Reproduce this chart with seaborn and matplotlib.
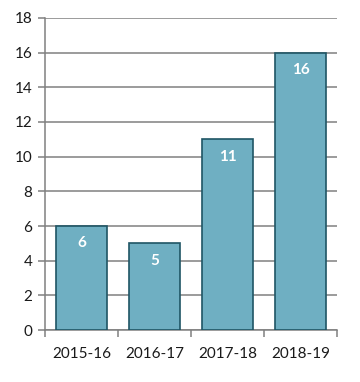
import matplotlib
matplotlib.use("Agg")
import matplotlib.pyplot as plt
import seaborn as sns
import pandas as pd
import numpy as np

categories = ["2015-16", "2016-17", "2017-18", "2018-19"]
values = [6, 5, 11, 16]
yticks = [0, 2, 4, 6, 8, 10, 12, 14, 16, 18]

sns.set_theme(style="white")
plt.rcParams['font.family'] = ['Lato', 'DejaVu Sans']

df = pd.DataFrame({"year": categories, "value": values})

fig = plt.figure(figsize=(3.6, 3.82), dpi=100)
ax = fig.add_axes([0.125, 0.136, 0.811, 0.817])

sns.barplot(data=df, x="year", y="value", ax=ax, color="#6FAFC2",
            saturation=1, width=0.71, edgecolor="#1F5565", linewidth=1.2, zorder=3)

ax.set_ylim(0, 18)
ax.set_xlim(-0.5, 3.5)
ax.set_yticks(yticks)
ax.yaxis.grid(True, color="#808080", linewidth=1.1, zorder=0)
ax.set_axisbelow(True)

for s in ["top", "right"]:
    ax.spines[s].set_visible(False)
for s in ["left", "bottom"]:
    ax.spines[s].set_color("#808080")
    ax.spines[s].set_linewidth(1.1)

ax.tick_params(axis="y", left=True, length=5, width=1.1, color="#808080",
               labelsize=11, labelcolor="#1a1a1a", pad=4)
ax.tick_params(axis="x", which="major", bottom=False, labelsize=11,
               labelcolor="#1a1a1a", pad=6)
ax.set_xticks(np.arange(-0.5, 4.0, 1.0), minor=True)
ax.tick_params(axis="x", which="minor", bottom=True, length=5, width=1.1,
               color="#808080")
ax.set_xlabel("")
ax.set_ylabel("")

for i, v in enumerate(values):
    ax.text(i, v - 1.0, str(v), ha="center", va="center", color="white",
            fontsize=11, fontweight="bold", zorder=4)

fig.savefig("out.png", dpi=100)
